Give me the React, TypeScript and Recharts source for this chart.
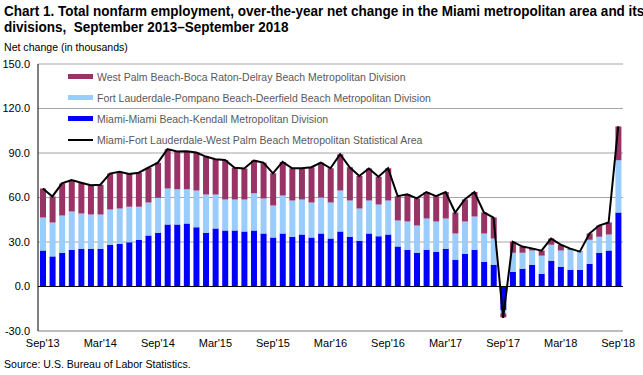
import React from "react";
import {
  ComposedChart,
  Bar,
  Line,
  XAxis,
  YAxis,
  CartesianGrid,
  ReferenceLine,
  Legend,
} from "recharts";

const months = [
  "Sep'13","Oct'13","Nov'13","Dec'13","Jan'14","Feb'14","Mar'14","Apr'14","May'14","Jun'14","Jul'14","Aug'14",
  "Sep'14","Oct'14","Nov'14","Dec'14","Jan'15","Feb'15","Mar'15","Apr'15","May'15","Jun'15","Jul'15","Aug'15",
  "Sep'15","Oct'15","Nov'15","Dec'15","Jan'16","Feb'16","Mar'16","Apr'16","May'16","Jun'16","Jul'16","Aug'16",
  "Sep'16","Oct'16","Nov'16","Dec'16","Jan'17","Feb'17","Mar'17","Apr'17","May'17","Jun'17","Jul'17","Aug'17",
  "Sep'17","Oct'17","Nov'17","Dec'17","Jan'18","Feb'18","Mar'18","Apr'18","May'18","Jun'18","Jul'18","Aug'18",
  "Sep'18",
];

const miami = [
  24.2, 20.3, 22.8, 24.8, 25.5, 25.5, 25.5, 28.2, 28.9, 29.8, 31.6, 34.3,
  36.3, 41.8, 41.8, 42.4, 40.0, 36.3, 39.1, 37.7, 37.7, 37.0, 37.7, 35.7,
  33.0, 35.7, 33.6, 35.0, 33.0, 35.7, 32.3, 37.0, 33.6, 30.9, 35.7, 33.9,
  35.0, 26.9, 24.8, 22.8, 24.8, 23.5, 25.5, 18.1, 22.1, 24.8, 16.7, 14.7,
  -15.8, 9.9, 12.0, 14.7, 8.6, 17.4, 13.3, 11.3, 11.3, 15.3, 22.8, 24.2,
  49.9,
];

const fortLauderdale = [
  22.3, 22.8, 25.1, 25.8, 23.7, 23.0, 23.0, 23.7, 23.7, 23.9, 22.1, 22.4,
  23.5, 24.3, 23.7, 23.1, 24.8, 25.8, 23.0, 21.0, 21.0, 21.7, 25.1, 23.7,
  21.6, 25.7, 24.4, 23.7, 23.7, 24.3, 24.4, 27.8, 24.4, 21.7, 22.3, 21.4,
  23.0, 17.6, 19.0, 18.3, 21.0, 20.3, 20.3, 17.6, 21.7, 22.4, 19.0, 17.6,
  -2.3, 12.9, 10.8, 9.5, 12.2, 10.8, 10.9, 13.5, 12.2, 16.3, 10.8, 10.8,
  35.2,
];

const westPalmBeach = [
  19.6, 17.6, 21.6, 21.2, 20.8, 19.7, 20.1, 24.2, 24.8, 22.1, 23.0, 23.4,
  23.7, 26.5, 25.5, 25.7, 25.5, 25.5, 23.7, 26.6, 21.4, 20.8, 22.1, 24.1,
  21.7, 22.6, 21.7, 21.0, 23.7, 23.5, 23.0, 24.4, 22.4, 21.9, 21.5, 18.7,
  21.7, 16.4, 18.3, 18.3, 17.9, 17.1, 17.9, 14.2, 14.9, 16.5, 14.2, 14.2,
  -2.7, 7.4, 4.1, 1.5, 3.4, 4.1, 4.0, 0.7, 0.3, 4.1, 7.5, 8.1,
  22.8,
];

const msa = [
  66.1, 60.7, 69.5, 71.8, 70.0, 68.2, 68.6, 76.1, 77.4, 75.8, 76.7, 80.1,
  83.5, 92.6, 91.0, 91.2, 90.3, 87.6, 85.8, 85.3, 80.1, 79.5, 84.9, 83.5,
  76.3, 84.0, 79.7, 79.7, 80.4, 83.5, 79.7, 89.2, 80.4, 74.5, 79.5, 74.0,
  79.7, 60.9, 62.1, 59.4, 63.7, 60.9, 63.7, 49.9, 58.7, 63.7, 49.9, 46.5,
  -21.2, 30.2, 26.9, 25.7, 24.2, 32.3, 28.2, 25.5, 23.5, 35.7, 41.1, 43.1,
  107.9,
];

const yTicks = [-30, 0, 30, 60, 90, 120, 150];

const seriesNames = {
  wpb: "West Palm Beach-Boca Raton-Delray Beach Metropolitan Division",
  ftl: "Fort Lauderdale-Pompano Beach-Deerfield Beach Metropolitan Division",
  miami: "Miami-Miami Beach-Kendall Metropolitan Division",
  msa: "Miami-Fort Lauderdale-West Palm Beach Metropolitan Statistical Area",
};

const colors = {
  wpb: "#993366",
  ftl: "#99CCFF",
  miami: "#0000FF",
  msa: "#000000",
};

const data = months.map((m, i) => ({
  month: m,
  miami: miami[i],
  ftl: fortLauderdale[i],
  wpb: westPalmBeach[i],
  msa: msa[i],
}));

const SANS = "'Liberation Sans', Arial, sans-serif";

const legendItems: { key: keyof typeof colors; line?: boolean }[] = [
  { key: "wpb" },
  { key: "ftl" },
  { key: "miami" },
  { key: "msa", line: true },
];

const CustomLegend = () => (
  <div style={{ fontFamily: SANS, fontSize: 10.5, color: "#595959" }}>
    {legendItems.map((it) => (
      <div
        key={it.key}
        style={{ display: "flex", alignItems: "center", height: 21, whiteSpace: "nowrap" }}
      >
        <span
          style={{
            display: "inline-block",
            width: 25,
            height: it.line ? 2 : 5,
            background: colors[it.key],
            marginRight: 4,
          }}
        />
        <span>{seriesNames[it.key]}</span>
      </div>
    ))}
  </div>
);

export default function App() {
  return (
    <div
      style={{
        position: "absolute",
        left: 0,
        top: 0,
        width: 643,
        height: 375,
        background: "#fff",
        overflow: "hidden",
      }}
    >
      <div
        style={{
          position: "absolute",
          left: 4,
          top: 3,
          fontFamily: SANS,
          fontWeight: "bold",
          fontSize: 15,
          lineHeight: "16px",
          color: "#000",
          whiteSpace: "pre",
          transform: "scaleX(0.9)",
          transformOrigin: "left top",
        }}
      >
        {"Chart 1. Total nonfarm employment, over-the-year net change in the Miami metropolitan area and its\ndivisions,  September 2013\u2013September 2018"}
      </div>
      <div
        style={{
          position: "absolute",
          left: 4,
          top: 41,
          fontFamily: SANS,
          fontSize: 11,
          color: "#000",
          transform: "scaleX(0.96)",
          transformOrigin: "left top",
        }}
      >
        Net change (in thousands)
      </div>
      <div style={{ position: "absolute", left: 0, top: 0 }}>
        <ComposedChart
          width={643}
          height={375}
          data={data}
          stackOffset="sign"
          margin={{ top: 64, right: 20, bottom: 20, left: 0 }}
        >
          <CartesianGrid vertical={false} stroke="#A6A6A6" strokeWidth={1} />
          <XAxis
            dataKey="month"
            interval={5}
            tickLine={false}
            axisLine={{ stroke: "#A6A6A6" }}
            height={24}
            tick={{ fontFamily: SANS, fontSize: 11, fill: "#000" }}
          />
          <XAxis
            xAxisId="top"
            orientation="top"
            dataKey="month"
            tick={false}
            tickLine={false}
            height={0}
            axisLine={{ stroke: "#A6A6A6" }}
          />
          <YAxis
            domain={[-30, 150]}
            ticks={yTicks}
            tickFormatter={(v: number) => v.toFixed(1)}
            tickLine={false}
            axisLine={{ stroke: "#000" }}
            width={38}
            tick={{ fontFamily: SANS, fontSize: 11, fill: "#000" }}
            allowDataOverflow
          />
          <YAxis
            yAxisId="right"
            orientation="right"
            domain={[-30, 150]}
            tick={false}
            tickLine={false}
            width={0}
            axisLine={{ stroke: "#A6A6A6" }}
          />
          <Legend
            content={<CustomLegend />}
            layout="vertical"
            verticalAlign="middle"
            align="center"
            wrapperStyle={{ position: "absolute", left: 68, top: 66, width: 420, height: 84 }}
          />
          <Bar dataKey="miami" stackId="a" fill={colors.miami} barSize={6} isAnimationActive={false} />
          <Bar dataKey="ftl" stackId="a" fill={colors.ftl} barSize={6} isAnimationActive={false} />
          <Bar dataKey="wpb" stackId="a" fill={colors.wpb} barSize={6} isAnimationActive={false} />
          <ReferenceLine y={0} stroke="#000" strokeWidth={1} />
          <Line
            dataKey="msa"
            stroke={colors.msa}
            strokeWidth={2}
            dot={false}
            type="linear"
            isAnimationActive={false}
          />
        </ComposedChart>
      </div>
      <div
        style={{
          position: "absolute",
          left: 4,
          top: 358,
          fontFamily: SANS,
          fontSize: 11,
          color: "#000",
          transform: "scaleX(0.96)",
          transformOrigin: "left top",
        }}
      >
        Source: U.S. Bureau of Labor Statistics.
      </div>
    </div>
  );
}
